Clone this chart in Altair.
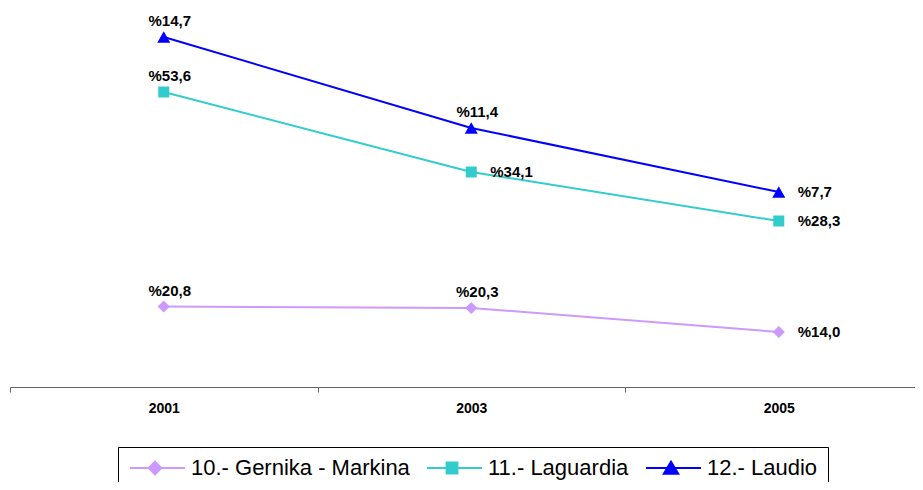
import altair as alt
import pandas as pd

series = ["10.- Gernika - Markina", "11.- Laguardia", "12.- Laudio"]
years = [2001, 2003, 2005]

# vertical position of each point (chart units above the category axis)
gernika_pos = [80.5, 79, 55]
laguardia_pos = [295, 215, 166]
laudio_pos = [350, 259, 195]

# printed data labels
gernika_labels = ["%20,8", "%20,3", "%14,0"]
laguardia_labels = ["%53,6", "%34,1", "%28,3"]
laudio_labels = ["%14,7", "%11,4", "%7,7"]

# where each label sits relative to its point
gernika_lpos = ["above", "above", "right"]
laguardia_lpos = ["above", "right", "right"]
laudio_lpos = ["above", "above", "right"]

colors = ["#CC99FF", "#33CCCC", "#0000FF"]
shapes = ["diamond", "square", "triangle-up"]
legend_paths = [
    "M-1.5,0L7.67,0M2.67,-1.05L3.72,0L2.67,1.05L1.62,0Z",
    "M-1.5,0L7.67,0M1.77,-0.9L3.57,-0.9L3.57,0.9L1.77,0.9Z",
    "M-1.5,0L7.67,0M2.67,-1.05L3.87,0.95L1.47,0.95Z",
]

rows = []
for s, pos, lab, lp in [
    (series[0], gernika_pos, gernika_labels, gernika_lpos),
    (series[1], laguardia_pos, laguardia_labels, laguardia_lpos),
    (series[2], laudio_pos, laudio_labels, laudio_lpos),
]:
    for y, p, l, q in zip(years, pos, lab, lp):
        rows.append({"series": s, "year": y, "pos": p, "label": l, "lpos": q})
df = pd.DataFrame(rows)

x_enc = alt.X(
    "year:Q",
    scale=alt.Scale(domain=[2000, 2005.886], nice=False, zero=False),
    axis=alt.Axis(
        title=None,
        values=[2000, 2001, 2002, 2003, 2004, 2005],
        labelExpr="datum.value % 2 == 1 ? datum.value : ''",
        labelAngle=0,
        labelFont="Liberation Sans",
        labelFontWeight="bold",
        labelFontSize=14,
        labelColor="black",
        labelPadding=9,
        tickSize=5,
        tickOpacity=alt.condition("datum.value % 2 == 0", alt.value(1), alt.value(0)),
        tickColor="#666666",
        domainColor="#666666",
        grid=False,
    ),
)
y_enc = alt.Y("pos:Q", scale=alt.Scale(domain=[0, 377], nice=False, zero=False), axis=None)

base = alt.Chart(df).encode(x=x_enc, y=y_enc)

color_scale = alt.Scale(domain=series, range=colors)

legend = alt.Legend(
    title=None,
    orient="none",
    legendX=108,
    legendY=437,
    direction="horizontal",
    columns=3,
    strokeColor="black",
    padding=10,
    symbolSize=144,
    symbolStrokeWidth=2,
    symbolOpacity=1,
    labelFont="Liberation Sans",
    labelFontSize=22,
    labelColor="black",
    labelOffset=41,
    labelLimit=0,
    columnPadding=13,
)

legend_layer = base.transform_filter("false").mark_point(filled=True).encode(
    color=alt.Color("series:N", sort=series, scale=color_scale, legend=legend),
    stroke=alt.Stroke("series:N", sort=series, scale=alt.Scale(domain=series, range=colors), legend=legend),
    shape=alt.Shape("series:N", sort=series, scale=alt.Scale(domain=series, range=legend_paths), legend=legend),
)

lines = base.mark_line(strokeWidth=2).encode(
    color=alt.Color("series:N", sort=series, scale=color_scale, legend=None)
)

point_layers = []
for s, shp, sz in zip(series, shapes, [150, 121, 170]):
    point_layers.append(
        base.transform_filter(alt.datum.series == s)
        .mark_point(filled=True, opacity=1, size=sz, shape=shp)
        .encode(color=alt.Color("series:N", sort=series, scale=color_scale, legend=None))
    )

text_style = dict(font="Liberation Sans", fontWeight="bold", fontSize=15, color="black")

above = base.transform_filter(alt.datum.lpos == "above").mark_text(
    align="center", baseline="middle", dx=6, dy=-16, **text_style
).encode(text="label:N")

right = base.transform_filter(alt.datum.lpos == "right").mark_text(
    align="left", baseline="middle", dx=19, dy=0, **text_style
).encode(text="label:N")

chart = (
    alt.layer(legend_layer, lines, *point_layers, above, right)
    .properties(
        width=905,
        height=377,
        padding={"left": 2, "top": 2, "right": 0, "bottom": 95},
        autosize=alt.AutoSizeParams(type="none"),
        background="white",
    )
    .configure_view(stroke=None)
)

chart.save("out.html", embed_options={"renderer": "svg", "actions": False})
